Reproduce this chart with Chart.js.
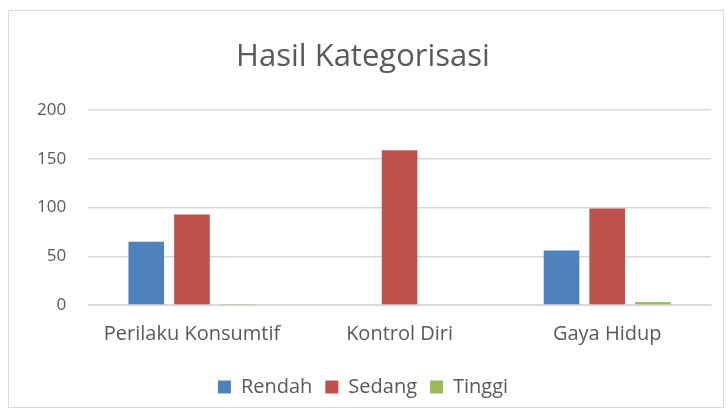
<!DOCTYPE html>
<html>
<head>
<meta charset="utf-8">
<script src="https://cdn.jsdelivr.net/npm/chart.js@4"></script>
<style>
  html, body { margin: 0; padding: 0; background: #fff; }
  #box {
    position: absolute; left: 8px; top: 10px;
    width: 716px; height: 398px;
    border: 1px solid #d9d9d9; box-sizing: border-box;
  }
</style>
</head>
<body>
<div id="box"><canvas id="chart"></canvas></div>
<script>
const categories = ['Perilaku Konsumtif', 'Kontrol Diri', 'Gaya Hidup'];
const rendah = [65, 0, 56];
const sedang = [93, 159, 99];
const tinggi = [1, 0, 3];
const yTicks = [0, 50, 100, 150, 200];

const font = "'Open Sans', 'Liberation Sans', sans-serif";
const textColor = '#595959';

new Chart(document.getElementById('chart'), {
  type: 'bar',
  data: {
    labels: categories,
    datasets: [
      { label: 'Rendah', data: rendah, backgroundColor: '#4f81bd' },
      { label: 'Sedang', data: sedang, backgroundColor: '#c0504d' },
      { label: 'Tinggi', data: tinggi, backgroundColor: '#9bbb59' }
    ]
  },
  options: {
    responsive: true,
    maintainAspectRatio: false,
    animation: false,
    datasets: { bar: { categoryPercentage: 0.66, barPercentage: 0.78 } },
    layout: { padding: { left: 6, right: 12, top: 8, bottom: 0 } },
    plugins: {
      title: {
        display: true, text: 'Hasil Kategorisasi', color: textColor,
        font: { family: font, size: 31, weight: 'normal' },
        padding: { top: 20, bottom: 34 }
      },
      legend: {
        position: 'bottom',
        labels: {
          color: textColor, boxWidth: 13, boxHeight: 13, padding: 13,
          font: { family: font, size: 20 }
        }
      },
      tooltip: { enabled: false }
    },
    scales: {
      x: {
        grid: { display: false },
        border: { color: '#d9d9d9' },
        ticks: { color: textColor, font: { family: font, size: 20 }, padding: 9 },
        afterFit: axis => { axis.height = 59; }
      },
      y: {
        min: 0, max: 200,
        afterBuildTicks: axis => { axis.ticks = yTicks.map(v => ({ value: v })); },
        grid: { color: '#d9d9d9', lineWidth: 1.5, drawTicks: false },
        border: { display: false },
        ticks: { color: textColor, font: { family: font, size: 17 }, padding: 22 }
      }
    }
  }
});
</script>
</body>
</html>
